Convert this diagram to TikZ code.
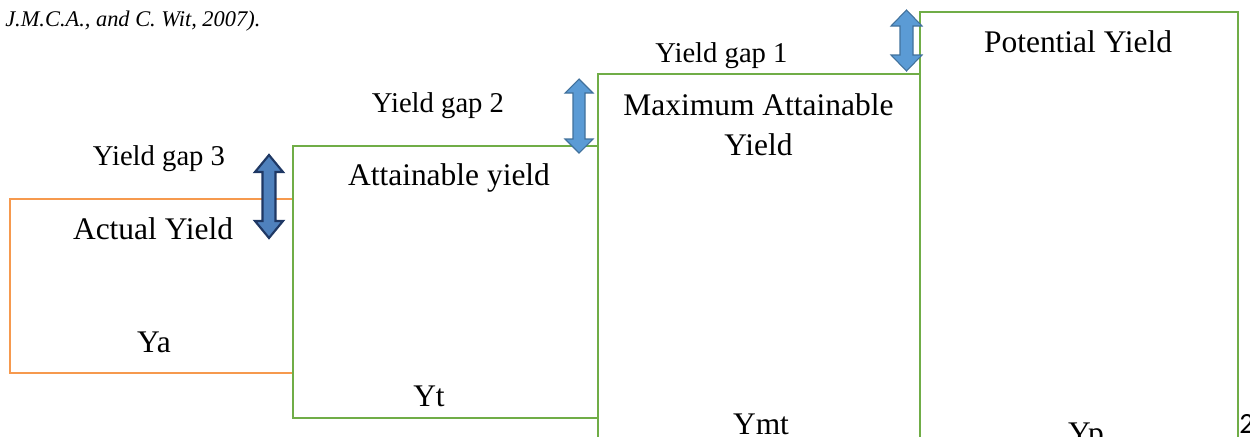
\documentclass[tikz,border=0pt]{standalone}
\usepackage{fontspec}
\setmainfont{Liberation Serif}
\newfontfamily\pagefont{Carlito}
\definecolor{boxgreen}{RGB}{112,173,71}
\definecolor{boxorange}{RGB}{246,153,78}
\definecolor{arrowfill}{RGB}{91,155,213}
\definecolor{arrowline}{RGB}{65,113,156}
\definecolor{arrowdarkfill}{RGB}{79,129,189}
\definecolor{arrowdarkline}{RGB}{31,56,100}
\newcommand\gaparrowshape[7]{%
  \draw[#1] (#2,#3) -- ({#2+#6},{#3+#5}) -- ({#2+#7},{#3+#5}) -- ({#2+#7},{#4-#5})
    -- ({#2+#6},{#4-#5}) -- (#2,#4) -- ({#2-#6},{#4-#5}) -- ({#2-#7},{#4-#5})
    -- ({#2-#7},{#3+#5}) -- ({#2-#6},{#3+#5}) -- cycle;}
\tikzset{
  gaplabel/.style={font=\fontsize{21.5}{24}\selectfont, anchor=base, inner sep=0pt},
  boxlabel/.style={font=\fontsize{23.6}{30}\selectfont, anchor=base, inner sep=0pt},
  greenbox/.style={draw=boxgreen, line width=1.9pt},
  orangebox/.style={draw=boxorange, line width=1.9pt},
  gaparrow/.style={fill=arrowfill, draw=arrowline, line width=0.8pt, line join=miter},
  gaparrowdark/.style={fill=arrowdarkfill, draw=arrowdarkline, line width=1.6pt, line join=miter},
}
\begin{document}
\begin{tikzpicture}[x=0.75pt, y=-0.75pt]
\useasboundingbox (0,0) rectangle (1250,436);
\clip (0,0) rectangle (1250,436);
% header
\node[anchor=base west, inner sep=0pt, font=\fontsize{16.8}{20}\selectfont\itshape] (hdr) at (5,26) {J.M.C.A., and C. Wit, 2007).};
% boxes
\draw[orangebox] (293,373) -- (10,373) -- (10,199) -- (293,199);
\draw[greenbox] (293,146) rectangle (598,418);
\draw[greenbox] (598,460) -- (598,74) -- (920,74) -- (920,460);
\draw[greenbox] (920,460) -- (920,12) -- (1238,12) -- (1238,460);
% arrows
\gaparrowshape{gaparrowdark}{269}{155}{238}{17}{14}{6.5}
\gaparrowshape{gaparrow}{579}{79}{153}{14}{14}{6}
\gaparrowshape{gaparrow}{906.5}{10}{71}{16}{15.5}{6.5}
% gap labels
\node[gaplabel] (g3) at (159,165) {Yield gap 3};
\node[gaplabel] (g2) at (438,112) {Yield gap 2};
\node[gaplabel] (g1) at (721.5,62) {Yield gap 1};
% box labels
\node[boxlabel] (ya) at (153,239) {Actual Yield};
\node[boxlabel] (yas) at (154,352) {Ya};
\node[boxlabel] (yt) at (449,185) {Attainable yield};
\node[boxlabel] (yts) at (429,406) {Yt};
\node[boxlabel] (ym1) at (758.5,115) {Maximum Attainable};
\node[boxlabel] (ym2) at (758.5,155) {Yield};
\node[boxlabel] (yms) at (761,434) {Ymt};
\node[boxlabel] (yp) at (1078,52) {Potential Yield};
\node[boxlabel] (yps) at (1086,443) {Yp};
% page number
\node[anchor=base west, inner sep=0pt, font=\pagefont\fontsize{22}{24}\selectfont] (pg) at (1239,433) {2};
\end{tikzpicture}
\end{document}
